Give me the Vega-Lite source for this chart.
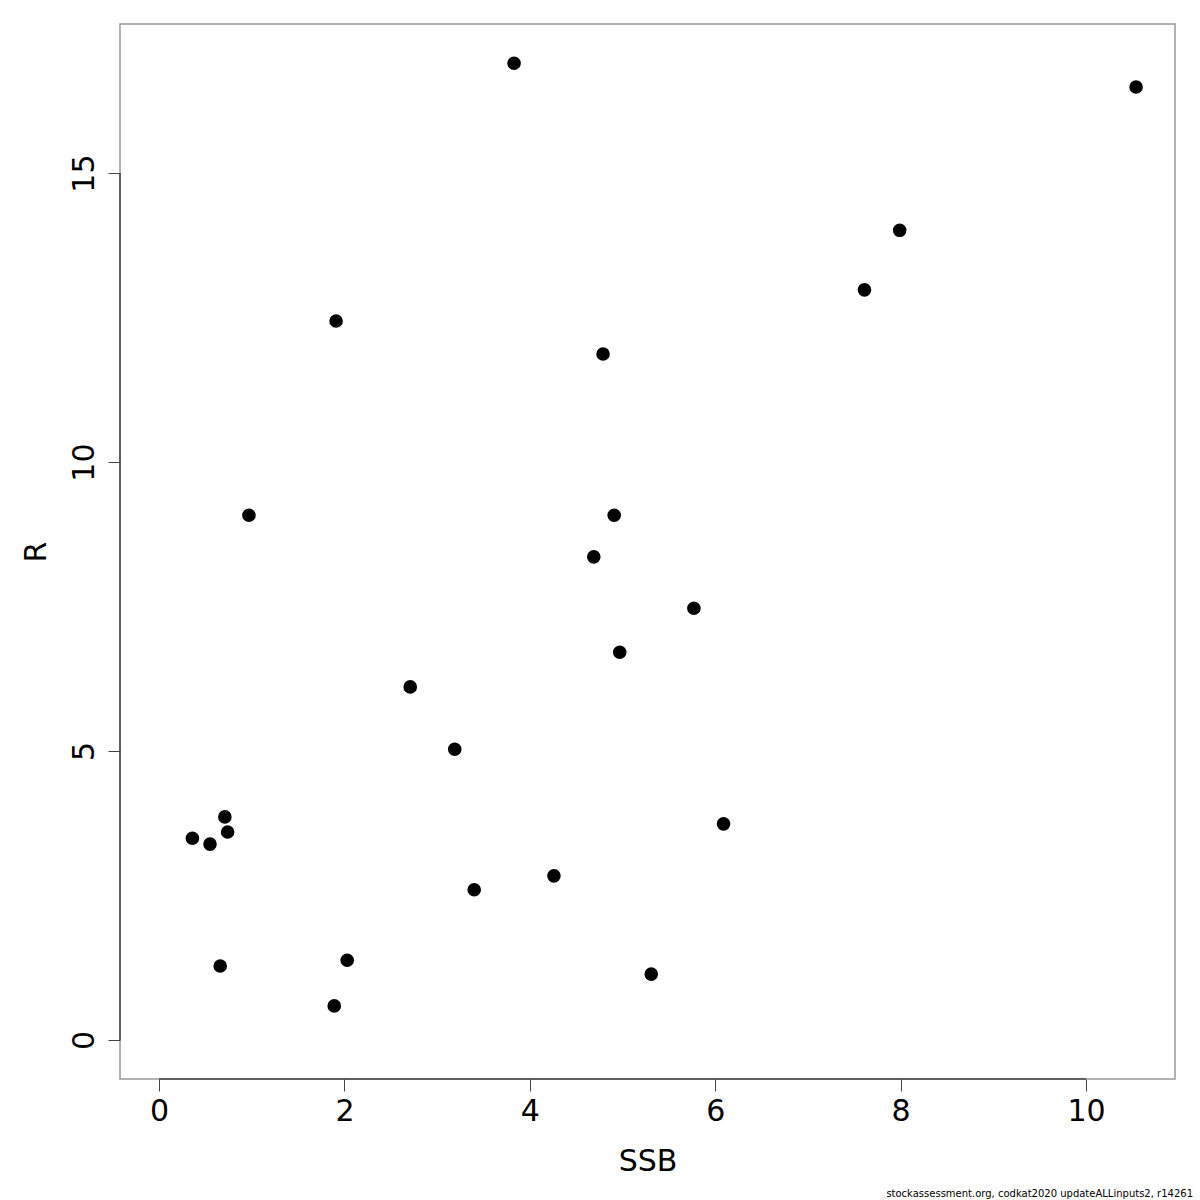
{
  "$schema": "https://vega.github.io/schema/vega-lite/v6.json",
  "width": 1055,
  "height": 1055,
  "autosize": {"type": "none"},
  "padding": {"left": 120, "top": 24, "right": 25, "bottom": 121},
  "background": "white",
  "config": {
    "font": "DejaVu Sans",
    "view": {"stroke": "#999999", "strokeWidth": 1.5}
  },
  "datasets": {
    "points": [
      {"SSB": 3.83, "R": 16.90},
      {"SSB": 10.54, "R": 16.49},
      {"SSB": 7.99, "R": 14.01},
      {"SSB": 7.61, "R": 12.98},
      {"SSB": 1.91, "R": 12.44},
      {"SSB": 4.79, "R": 11.87},
      {"SSB": 0.97, "R": 9.08},
      {"SSB": 4.91, "R": 9.08},
      {"SSB": 4.69, "R": 8.36},
      {"SSB": 5.77, "R": 7.47},
      {"SSB": 4.97, "R": 6.71},
      {"SSB": 2.71, "R": 6.11},
      {"SSB": 3.19, "R": 5.03},
      {"SSB": 0.71, "R": 3.86},
      {"SSB": 0.74, "R": 3.60},
      {"SSB": 0.36, "R": 3.49},
      {"SSB": 0.55, "R": 3.39},
      {"SSB": 6.09, "R": 3.74},
      {"SSB": 4.26, "R": 2.84},
      {"SSB": 3.40, "R": 2.60},
      {"SSB": 2.03, "R": 1.38},
      {"SSB": 0.66, "R": 1.28},
      {"SSB": 5.31, "R": 1.14},
      {"SSB": 1.89, "R": 0.59}
    ],
    "xaxisline": [{"from": 0, "to": 10, "at": -0.675}],
    "yaxisline": [{"from": 0, "to": 15, "at": -0.421}]
  },
  "layer": [
    {
      "data": {"name": "xaxisline"},
      "mark": {"type": "rule", "color": "#444444", "strokeWidth": 1.5},
      "encoding": {
        "x": {"field": "from", "type": "quantitative"},
        "x2": {"field": "to"},
        "y": {"field": "at", "type": "quantitative"}
      }
    },
    {
      "data": {"name": "yaxisline"},
      "mark": {"type": "rule", "color": "#444444", "strokeWidth": 1.5},
      "encoding": {
        "y": {"field": "from", "type": "quantitative"},
        "y2": {"field": "to"},
        "x": {"field": "at", "type": "quantitative"}
      }
    },
    {
      "data": {"name": "points"},
      "mark": {"type": "circle", "color": "black", "opacity": 1, "size": 185},
      "encoding": {
        "x": {"field": "SSB", "type": "quantitative"},
        "y": {"field": "R", "type": "quantitative"}
      }
    }
  ],
  "encoding": {
    "x": {
      "type": "quantitative",
      "scale": {"domain": [-0.421, 10.96], "nice": false, "zero": false},
      "axis": {
        "values": [0, 2, 4, 6, 8, 10],
        "domain": false, "grid": false,
        "tickColor": "#444444", "tickSize": 12, "tickWidth": 1,
        "labelFontSize": 30, "labelColor": "black", "labelPadding": 5,
        "title": "SSB", "titleFontSize": 30, "titleFontWeight": "normal",
        "titleColor": "black", "titlePadding": 20
      }
    },
    "y": {
      "type": "quantitative",
      "scale": {"domain": [-0.675, 17.58], "nice": false, "zero": false},
      "axis": {
        "values": [0, 5, 10, 15],
        "domain": false, "grid": false,
        "tickColor": "#444444", "tickSize": 12, "tickWidth": 1,
        "labelFontSize": 30, "labelColor": "black", "labelAngle": 270,
        "labelAlign": "center", "labelBaseline": "bottom", "labelPadding": 9,
        "title": "R", "titleFontSize": 30, "titleFontWeight": "normal",
        "titleColor": "black", "titlePadding": 18
      }
    }
  },
  "title": {
    "text": "stockassessment.org, codkat2020  updateALLinputs2, r14261",
    "orient": "bottom", "anchor": "end", "fontSize": 10, "fontWeight": "normal",
    "font": "DejaVu Sans", "color": "black", "offset": 23, "baseline": "bottom", "dx": 18
  }
}
